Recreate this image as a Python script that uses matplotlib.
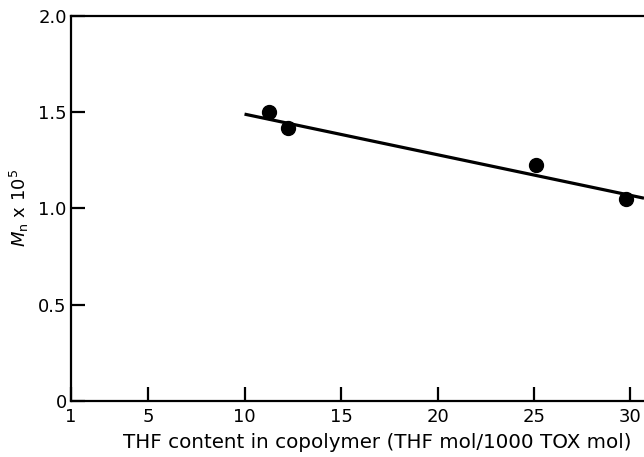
import numpy as np
import matplotlib.pyplot as plt

# data
thf = [11.25, 12.25, 25.1, 29.75]
mn = [1.50, 1.42, 1.225, 1.05]
fit_x = [10.0, 30.7]
fit_y = [1.49, 1.053]

xticks = [1, 5, 10, 15, 20, 25, 30]
yticks = [0, 0.5, 1.0, 1.5, 2.0]
yticklabels = ['0', '0.5', '1.0', '1.5', '2.0']

fig = plt.figure(figsize=(6.44, 4.57), dpi=100)
ax = fig.add_axes([0.11, 0.123, 0.89, 0.842])

ax.plot(fit_x, fit_y, color='black', lw=2.3, solid_capstyle='butt')
ax.plot(thf, mn, 'o', color='black', markersize=10)

ax.set_xlim(1, 30.7)
ax.set_ylim(0, 2.0)
ax.set_xticks(xticks)
ax.set_yticks(yticks)
ax.set_yticklabels(yticklabels)
ax.tick_params(direction='in', length=10, width=1.6, labelsize=13, pad=3)
ax.tick_params(axis='x', pad=5)

ax.spines['right'].set_visible(False)
for s in ['left', 'bottom', 'top']:
    ax.spines[s].set_linewidth(1.6)

ax.set_xlabel('THF content in copolymer (THF mol/1000 TOX mol)', fontsize=14.3)
ax.xaxis.set_label_coords(0.534, -0.085)
ax.set_ylabel(r'$\mathit{M}_{\mathrm{n}}$ x 10$^5$', fontsize=13, labelpad=5)

plt.savefig('out.png', dpi=100)
plt.close()
